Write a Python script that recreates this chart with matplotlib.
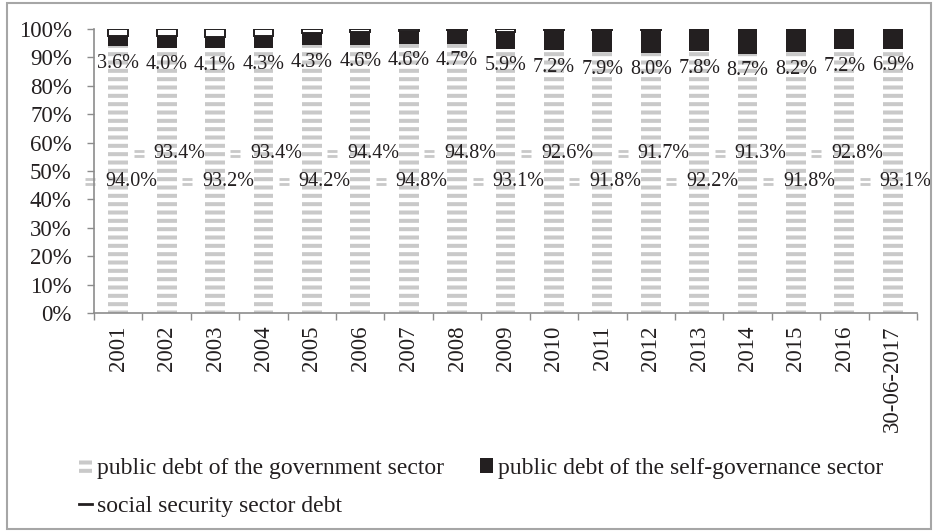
import matplotlib
matplotlib.use("Agg")
import matplotlib.pyplot as plt
import matplotlib.transforms as mtransforms
from matplotlib.lines import Line2D
from matplotlib.patches import Rectangle
import numpy as np

categories = ["2001", "2002", "2003", "2004", "2005", "2006", "2007", "2008", "2009",
              "2010", "2011", "2012", "2013", "2014", "2015", "2016", "30-06-2017"]
gov = [94.0, 93.4, 93.2, 93.4, 94.2, 94.4, 94.8, 94.8, 93.1,
       92.6, 91.8, 91.7, 92.2, 91.3, 91.8, 92.8, 93.1]
selfgov = [3.6, 4.0, 4.1, 4.3, 4.3, 4.6, 4.6, 4.7, 5.9,
           7.2, 7.9, 8.0, 7.8, 8.7, 8.2, 7.2, 6.9]
social = [2.4, 2.6, 2.7, 2.3, 1.5, 1.0, 0.6, 0.5, 1.0,
          0.2, 0.3, 0.3, 0.0, 0.0, 0.0, 0.0, 0.0]
series_names = ["public debt of the government sector",
                "public debt of the self-governance sector",
                "social security sector debt"]
yticks = [0, 10, 20, 30, 40, 50, 60, 70, 80, 90, 100]

FONT = "Liberation Serif"
TXT = "#231f20"
GRAY = "#c9c9c9"
BLACK = "#231f20"
AX = "#8c8c8c"
FS = 16.5     # axis tick labels
VFS = 14.5    # value labels
LFS = 17      # legend

plt.rcParams["font.family"] = [FONT, "DejaVu Serif"]
plt.rcParams["hatch.linewidth"] = 2.9

fig = plt.figure(figsize=(9.38, 5.32), dpi=100)
ax = fig.add_axes([94/938, 1-313/532, (917-94)/938, (313-29)/532])

x = np.arange(len(categories))
g = np.array(gov)
s = np.array(selfgov)
so = np.array(social)
w = 0.41

b1 = ax.bar(x, g, w, facecolor="white", edgecolor=GRAY, linewidth=0, hatch="--")
b2 = ax.bar(x, s, w, bottom=g, color=BLACK, linewidth=0)
b3 = ax.bar(x, so, w, bottom=g + s, facecolor="white", edgecolor=BLACK, linewidth=1.4)

ax.set_xlim(-0.5, len(categories) - 0.5)
ax.set_ylim(0, 100)
ax.set_yticks(yticks)
ax.set_yticklabels([f"{v}%" for v in yticks])
ax.set_xticks(x)
ax.set_xticklabels(categories, rotation=90)
ax.set_xticks(np.arange(len(categories) + 1) - 0.5, minor=True)
ax.tick_params(axis="x", which="major", length=0, pad=9, labelsize=FS, labelcolor=TXT)
ax.tick_params(axis="x", which="minor", length=5, width=1, color=AX, direction="out")
ax.tick_params(axis="y", length=5, width=1, color=AX, pad=11, labelsize=FS, labelcolor=TXT)
for sp in ["top", "right"]:
    ax.spines[sp].set_visible(False)
for sp in ["left", "bottom"]:
    ax.spines[sp].set_color(AX)
    ax.spines[sp].set_linewidth(1.2)

# government labels with legend key
for i, v in enumerate(gov):
    ylab = 46.3 if i % 2 == 0 else 56.3
    ax.annotate(f"{v:.1f}%", (i, ylab), xytext=(-13, 0), textcoords="offset pixels",
                ha="left", va="center", fontsize=VFS, color=TXT)
    for dy in (2.6, -2.6):
        tr = mtransforms.offset_copy(ax.transData, fig=fig, x=-28, y=dy, units="dots")
        ax.plot([i], [ylab], marker="_", markersize=7.5, markeredgewidth=2.0,
                color=GRAY, transform=tr, clip_on=False)

# self-governance labels
for i, v in enumerate(selfgov):
    ax.text(i, gov[i] - 6.0, f"{v:.1f}%", ha="center", va="center",
            fontsize=VFS, color=TXT)

handles = [b1, Line2D([0], [0], color=BLACK, lw=2), b2]
labels = [series_names[0], series_names[2], series_names[1]]
fig.legend(handles, labels, loc="upper left", bbox_to_anchor=(79/938, 1-458/532),
           ncol=2, frameon=False, fontsize=LFS, handlelength=0.55, handleheight=0.6,
           handletextpad=0.2, columnspacing=1.55, labelspacing=0.7, borderpad=0,
           borderaxespad=0, labelcolor=TXT)

fig.patches.append(Rectangle((7/938, 3/532), 924/938, 526/532, transform=fig.transFigure,
                             fill=False, edgecolor="#a6a6a6", linewidth=1.5))

fig.savefig("out.png", dpi=100)
